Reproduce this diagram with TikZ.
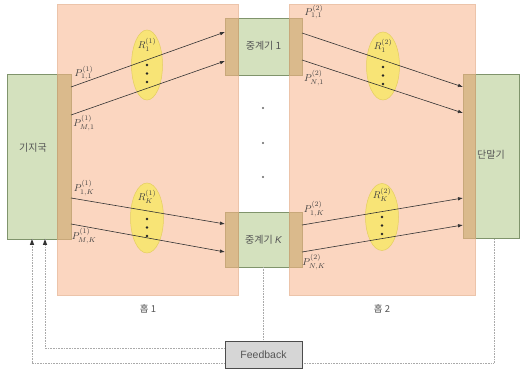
\documentclass[tikz,border=0pt]{standalone}
\usepackage{fontspec}
\newfontfamily\kr{Noto Sans CJK KR}
\newfontfamily\lsans{Liberation Sans}
\usetikzlibrary{arrows.meta,shapes.geometric}
\definecolor{hopfill}{RGB}{251,214,192}
\definecolor{hopdraw}{RGB}{236,196,170}
\definecolor{boxfill}{RGB}{212,225,190}
\definecolor{boxdraw}{RGB}{128,148,108}
\definecolor{stripc}{RGB}{218,186,140}
\definecolor{stripd}{RGB}{200,168,122}
\definecolor{ellfill}{RGB}{248,228,118}
\definecolor{elldraw}{RGB}{228,206,96}
\definecolor{fbfill}{RGB}{214,214,214}
\definecolor{txt}{RGB}{85,85,85}
\definecolor{fbline}{RGB}{170,170,170}
\tikzset{
  hop/.style={draw=hopdraw, fill=hopfill, line width=0.6pt},
  gbox/.style={draw=boxdraw, fill=boxfill, line width=0.8pt},
  stripbox/.style={draw=stripd, fill=stripc, line width=0.4pt},
  ell/.style={ellipse, draw=elldraw, fill=ellfill, line width=0.5pt, inner sep=0pt},
  lbl/.style={font=\kr\fontsize{10}{12}\selectfont, text=txt, inner sep=0pt},
  plbl/.style={font=\normalsize, inner sep=0pt, text=black!75},
  link/.style={draw=black!80, line width=0.6pt, -{Latex[length=5pt,width=3.6pt]}},
  fb/.style={draw=fbline, line width=0.6pt, densely dotted},
  dotc/.style={circle, fill=black!85, inner sep=0pt, minimum size=2.6pt},
}
\begin{document}
\begin{tikzpicture}[x=1pt,y=-1pt]
\useasboundingbox (0,0) rectangle (523,371);
\fill[white] (0,0) rectangle (523,371);

% hop panels
\node[hop, minimum width=181pt, minimum height=291pt, inner sep=0pt] (hop1) at (147.5,149.5) {};
\node[hop, minimum width=186pt, minimum height=291pt, inner sep=0pt] (hop2) at (382,149.5) {};

% base station
\node[gbox, minimum width=64pt, minimum height=165pt, inner sep=0pt] (bs) at (39,156.5) {};
\node[stripbox, minimum width=14pt, minimum height=165pt, inner sep=0pt] (bsstrip) at (64,156.5) {};
\node[lbl] (bslbl) at (33,148) {기지국};

% terminal
\node[gbox, minimum width=56pt, minimum height=164pt, inner sep=0pt] (ms) at (491,156) {};
\node[stripbox, minimum width=12pt, minimum height=164pt, inner sep=0pt] (msstrip) at (469,156) {};
\node[lbl] (mslbl) at (491,155) {단말기};

% relays
\node[gbox, minimum width=77pt, minimum height=57pt, inner sep=0pt] (r1) at (263.5,46.5) {};
\node[stripbox, minimum width=13pt, minimum height=57pt, inner sep=0pt] (r1a) at (231.5,46.5) {};
\node[stripbox, minimum width=13pt, minimum height=57pt, inner sep=0pt] (r1b) at (295.5,46.5) {};
\node[lbl] (r1lbl) at (263.5,46) {중계기 1};

\node[gbox, minimum width=77pt, minimum height=55pt, inner sep=0pt] (rk) at (263.5,239.5) {};
\node[stripbox, minimum width=13pt, minimum height=55pt, inner sep=0pt] (rka) at (231.5,239.5) {};
\node[stripbox, minimum width=13pt, minimum height=55pt, inner sep=0pt] (rkb) at (295.5,239.5) {};
\node[lbl] (rklbl) at (263.5,240) {중계기 {\lsans\itshape K}};

% dots between relays
\node[dotc, fill=black!60, minimum size=2.2pt] (d1) at (263,108) {};
\node[dotc, fill=black!60, minimum size=2.2pt] (d2) at (263,143) {};
\node[dotc, fill=black!60, minimum size=2.2pt] (d3) at (263,177) {};

% ellipses
\node[ell, minimum width=31pt, minimum height=70pt] (e11) at (147,65) {};
\node[ell, minimum width=33pt, minimum height=70pt] (e1k) at (147,218) {};
\node[ell, minimum width=33pt, minimum height=68pt] (e21) at (383,66) {};
\node[ell, minimum width=33pt, minimum height=67pt] (e2k) at (382,217) {};

% arrow endpoints
\coordinate (a1s) at (71,87);   \coordinate (a1e) at (225,32);
\coordinate (a2s) at (71,115);  \coordinate (a2e) at (225,61);
\coordinate (a3s) at (71,198);  \coordinate (a3e) at (225,224);
\coordinate (a4s) at (71,224);  \coordinate (a4e) at (225,252);
\coordinate (b1s) at (302,33);  \coordinate (b1e) at (463,87);
\coordinate (b2s) at (302,60);  \coordinate (b2e) at (463,113);
\coordinate (b3s) at (302,225); \coordinate (b3e) at (463,198);
\coordinate (b4s) at (302,252); \coordinate (b4e) at (463,225);
\foreach \s/\e in {a1s/a1e,a2s/a2e,a3s/a3e,a4s/a4e,b1s/b1e,b2s/b2e,b3s/b3e,b4s/b4e}
  \draw[link] (\s) -- (\e);

% ellipse dots and labels
\foreach \n/\x/\y in {e11/147/65, e1k/147/219, e21/383/67, e2k/382/217}{
  \node[dotc] at (\x,\y) {};
  \node[dotc] at (\x,\y+8.5) {};
  \node[dotc] at (\x,\y+17) {};
}
\node[plbl] (r11) at (147,45) {$R_1^{(1)}$};
\node[plbl] (r1k) at (147,197) {$R_K^{(1)}$};
\node[plbl] (r21) at (383,46) {$R_1^{(2)}$};
\node[plbl] (r2k) at (382,195) {$R_K^{(2)}$};

% power labels
\node[plbl] (p11) at (84,73) {$P_{1,1}^{(1)}$};
\node[plbl] (pm1) at (84,123) {$P_{M,1}^{(1)}$};
\node[plbl] (p1k) at (84,188) {$P_{1,K}^{(1)}$};
\node[plbl] (pmk) at (84,236) {$P_{M,K}^{(1)}$};
\node[plbl] (q11) at (314,12) {$P_{1,1}^{(2)}$};
\node[plbl] (qn1) at (314,78) {$P_{N,1}^{(2)}$};
\node[plbl] (q1k) at (314,209) {$P_{1,K}^{(2)}$};
\node[plbl] (qnk) at (314,262) {$P_{N,K}^{(2)}$};

% hop labels
\node[lbl, font=\kr\fontsize{9.5}{11}\selectfont] (h1) at (148,309) {홉 1};
\node[lbl, font=\kr\fontsize{9.5}{11}\selectfont] (h2) at (382,309) {홉 2};

% feedback
\coordinate (t1) at (494,239);
\coordinate (c1) at (494,363);
\coordinate (c2) at (32,363);
\coordinate (bsin1) at (32,239);
\coordinate (c3) at (45,348);
\coordinate (bsin2) at (45,239);
\coordinate (rkb0) at (263,267);
\draw[fb] (t1) -- (c1) -- (c2);
\draw[fb] (c2) -- (bsin1);
\draw[fb] (rkb0) -- (263,341);
\node[draw=black!70, fill=fbfill, line width=0.8pt, minimum width=77pt, minimum height=27pt, inner sep=0pt, font=\lsans\fontsize{10.5}{12}\selectfont, text=txt] (fbk) at (263.5,354.5) {Feedback};
\draw[fb] (fbk.west |- c3) -- (c3) -- (bsin2);
\fill[black!80] (bsin1) -- ++(-2.2,6) -- ++(4.4,0) -- cycle;
\fill[black!80] (bsin2) -- ++(-2.2,6) -- ++(4.4,0) -- cycle;
\end{tikzpicture}
\end{document}
